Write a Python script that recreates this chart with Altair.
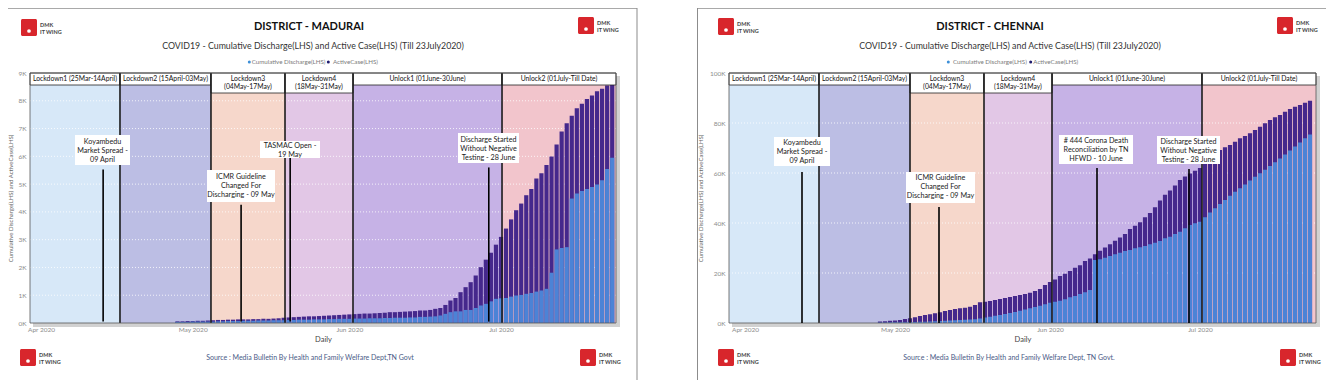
import altair as alt
import pandas as pd

FONT = "Lato"
FIRST_DAY = "2020-04-28"

# ---------------- series, thousands, daily from 28 Apr 2020 ----------------
madurai_total = [0.06, 0.06, 0.07,
    0.07, 0.08, 0.08, 0.09, 0.10, 0.11, 0.11, 0.12, 0.12, 0.13, 0.13, 0.13, 0.14, 0.14, 0.15, 0.15,
    0.16, 0.17, 0.19, 0.20, 0.21, 0.22, 0.23, 0.24, 0.24, 0.25, 0.26, 0.27, 0.28, 0.29, 0.30,
    0.31, 0.32, 0.33, 0.34, 0.34, 0.35,
    0.36, 0.37, 0.39, 0.39, 0.40, 0.41, 0.42, 0.43, 0.45, 0.45, 0.47, 0.51, 0.54, 0.65, 0.81, 0.90,
    1.11, 1.29, 1.47, 1.71, 2.01, 2.28, 2.53, 2.82,
    3.10, 3.40, 3.73, 4.06, 4.30, 4.60, 4.82, 5.20, 5.39, 5.69, 5.99, 6.43, 6.89, 7.19, 7.46, 7.73,
    7.89, 8.06, 8.19, 8.34, 8.43, 8.55, 8.64]
madurai_discharge = [0.04, 0.04, 0.04,
    0.05, 0.05, 0.05, 0.05, 0.05, 0.06, 0.06, 0.07, 0.07, 0.07, 0.08, 0.08, 0.08, 0.09, 0.09, 0.09,
    0.10, 0.10, 0.10, 0.11, 0.11, 0.12, 0.12, 0.12, 0.13, 0.13, 0.13, 0.14, 0.14, 0.15, 0.15,
    0.15, 0.16, 0.16, 0.16, 0.17, 0.17,
    0.17, 0.18, 0.18, 0.19, 0.19, 0.19, 0.20, 0.20, 0.22, 0.22, 0.23, 0.24, 0.27, 0.33, 0.39, 0.42,
    0.42, 0.47, 0.47, 0.54, 0.63, 0.69, 0.78, 0.87,
    0.89, 0.90, 0.95, 0.99, 1.01, 1.05, 1.08, 1.13, 1.17, 1.23, 1.81, 2.65, 2.70, 2.73, 4.48, 4.66,
    4.75, 4.82, 4.90, 4.99, 5.14, 5.54, 5.95]

chennai_total = [0.6, 0.7, 0.9,
    1.0, 1.2,
    1.6, 1.9, 2.3, 2.8, 3.2, 3.5, 3.9, 4.3, 4.8, 5.2, 5.6, 5.9, 6.1, 6.5, 7.2,
    8.3, 8.5, 8.8, 9.2, 9.6, 10.0, 10.4, 10.8, 11.2, 11.6, 12.1, 12.8, 13.6, 15.2,
    16.4, 17.4, 18.8, 19.7, 20.8, 22.1, 23.1, 24.8, 25.8, 27.5, 28.9, 30.2, 31.5, 32.9, 34.2,
    35.6, 37.6, 38.9, 40.3, 42.3, 44.0, 46.3, 49.0, 51.3, 53.0, 55.0, 57.2, 58.6, 59.8, 60.9,
    62.0, 63.9, 65.9, 67.6, 69.2, 70.3, 71.2, 72.5, 73.9, 74.8, 75.9, 77.2, 78.5, 79.9, 81.2,
    82.3, 83.2, 84.5, 85.6, 86.5, 87.2, 88.1, 88.9]
chennai_discharge = [0.2, 0.2, 0.3,
    0.3, 0.3,
    0.3, 0.4, 0.4, 0.5, 0.5, 0.6, 0.7, 0.8, 0.9, 1.0, 1.1, 1.2, 1.3, 1.4, 1.5,
    1.8, 2.2, 2.5, 2.9, 3.2, 3.6, 4.0, 4.4, 4.9, 5.4, 5.9, 6.4, 6.9, 7.5,
    8.1, 8.5, 8.9, 9.5, 10.3, 10.8, 11.6, 12.3, 13.2, 25.2, 25.5, 26.1, 26.8, 27.5, 28.1,
    28.8, 29.2, 29.9, 30.3, 30.8, 31.5, 32.1, 32.8, 33.9, 34.5, 35.6, 36.5, 37.9, 39.2, 39.9,
    40.5, 42.3, 44.2, 45.9, 47.6, 49.2, 50.9, 52.5, 53.9, 55.4, 57.0, 58.5, 59.9, 61.3, 62.8,
    64.3, 65.8, 67.4, 69.0, 70.6, 72.2, 73.9, 75.4]

# ---------------- periods ----------------
period_labels = ["Lockdown1 (25Mar-14April)", "Lockdown2 (15April-03May)",
                 "Lockdown3\n(04May-17May)", "Lockdown4\n(18May-31May)",
                 "Unlock1 (01June-30June)", "Unlock2 (01July-Till Date)"]
period_two_lines = [False, False, True, True, False, False]
period_colors = ["#d7e8f8", "#bcbee4", "#f6d7cb", "#e2c7e6", "#c6b2e6", "#f2c5cc"]
madurai_bounds = ["2020-03-29T19:46", "2020-04-16T15:00", "2020-05-04T15:00", "2020-05-19T06:30",
                  "2020-06-01T17:20", "2020-07-01T04:50", "2020-07-23T18:00"]
chennai_bounds = ["2020-03-28T19:12", "2020-04-15T19:12", "2020-05-04T00:00", "2020-05-18T19:12",
                  "2020-06-01T09:36", "2020-07-01T09:36", "2020-07-24T04:48"]

# ---------------- events ----------------
madurai_events = ["Koyambedu\nMarket Spread -\n09 April",
                  "ICMR Guideline\nChanged For\nDischarging - 09 May",
                  "TASMAC Open -\n19 May",
                  "Discharge Started\nWithout Negative\nTesting - 28 June"]
madurai_event_dates = ["2020-04-13T07:00", "2020-05-10T14:00", "2020-05-20T07:00", "2020-06-28T14:00"]
madurai_event_tops = [5.53, 4.26, 5.96, 5.60]
chennai_events = ["Koyambedu\nMarket Spread -\n09 April",
                  "ICMR Guideline\nChanged For\nDischarging - 09 May",
                  "# 444 Corona Death\nReconciliation by TN\nHFWD - 10 June",
                  "Discharge Started\nWithout Negative\nTesting - 28 June"]
chennai_event_dates = ["2020-04-12T09:36", "2020-05-09T19:12", "2020-06-10T09:36", "2020-06-28T19:12"]
chennai_event_tops = [60.4, 46.4, 62.0, 61.6]

month_ticks = ["2020-04-01", "2020-05-01", "2020-06-01", "2020-07-01"]

# ---------------- layout (pixels, chart coords) ----------------
W, H = 1318, 372
TOP, BOTTOM = 65, 315
madurai_box = [(67, 122, 127, 157, 94.5, 143), (199, 267, 162, 194, 233, 178),
               (252, 312, 133, 150, 282, 142), (450, 511, 125, 155, 480.5, 141)]
chennai_box = [(766, 822, 129, 158, 794, 143.5), (898, 967, 164, 195, 932.5, 179),
               (1051, 1125, 127, 156, 1088, 142), (1149, 1212, 128, 156, 1180.5, 142.5)]
EV_LINE = 9

DARK = "#45288c"
BLUE = "#4c83d6"
ONE = alt.Data(values=[{"k": 0}])


def dt(s):
    t = pd.Timestamp(s)
    return alt.DateTime(year=t.year, month=t.month, date=t.day, hours=t.hour, minutes=t.minute)


def rect_px(x0, x1, y0, y1, **kw):
    return alt.Chart(ONE).mark_rect(**kw).encode(
        x=alt.value(x0), x2=alt.value(x1), y=alt.value(y0), y2=alt.value(y1))


def text_px(s, x, y, **kw):
    kw.setdefault("font", FONT)
    return alt.Chart(ONE).mark_text(text=s, lineBreak="\n", **kw).encode(
        x=alt.value(x), y=alt.value(y))


def panel(total, discharge, bounds, xr, ymax, ystep, ev_labels, ev_dates, ev_tops, boxes, title_x):
    xs = alt.Scale(domain=[dt(bounds[0]), dt(bounds[-1])], range=list(xr), nice=False)
    ys = alt.Scale(domain=[0, ymax], range=[BOTTOM, TOP], nice=False)
    xaxis = alt.Axis(orient="bottom", offset=-(H - BOTTOM), values=[dt(m) for m in month_ticks],
                     format="%b %Y", labelFont=FONT, labelFontSize=6.5, labelColor="#8c8c8c",
                     ticks=False, domain=False, grid=False, labelPadding=3,
                     title="Daily", titleFont=FONT, titleFontSize=7.5, titleFontWeight="normal",
                     titleColor="#444", titlePadding=3)
    yaxis = alt.Axis(orient="left", offset=-xr[0], values=list(range(0, ymax + 1, ystep)),
                     labelExpr="datum.value + 'K'", labelFont=FONT, labelFontSize=6.5,
                     labelColor="#8c8c8c", ticks=False, domain=False, grid=False, labelPadding=4,
                     title="Cumulative Discharge(LHS) and ActiveCase(LHS)", titleFont=FONT,
                     titleFontSize=6, titleFontWeight="normal", titleColor="#666", titleX=title_x)

    dates = pd.date_range(FIRST_DAY, periods=len(total), freq="D")
    bars = pd.DataFrame({"start": dates - pd.Timedelta(hours=10),
                         "end": dates + pd.Timedelta(hours=10),
                         "total": total, "discharge": discharge})
    per = pd.DataFrame({"start": pd.to_datetime(bounds[:-1]), "end": pd.to_datetime(bounds[1:]),
                        "label": period_labels, "two": period_two_lines, "color": period_colors})
    per["mid"] = per["start"] + (per["end"] - per["start"]) / 2
    inner = pd.DataFrame({"b": pd.to_datetime(bounds[1:-1])})
    ev = pd.DataFrame({"d": pd.to_datetime(ev_dates), "top": ev_tops})
    grid = pd.DataFrame({"v": list(range(0, ymax + 1, ystep))[1:]})

    X = lambda f: alt.X(f, scale=xs, axis=xaxis)
    Y = lambda f: alt.Y(f, scale=ys, axis=yaxis)

    x0, x1 = xr
    layers = [rect_px(x0 + 3, x1 + 4, TOP + 3, BOTTOM + 4, color="#000", opacity=0.18)]
    for two, top in ((False, 77), (True, 85)):
        sub = alt.Chart(per).transform_filter(
            "datum.two" if two else "!datum.two").mark_rect().encode(
            x=X("start:T"), x2="end:T", y=alt.value(top), y2=alt.value(BOTTOM),
            color=alt.Color("color:N", scale=None))
        layers.append(sub)
    layers.append(alt.Chart(grid).mark_rule(color="#ffffff", strokeDash=[1, 2], opacity=0.8,
                                            strokeWidth=1).encode(
        y=Y("v:Q"), x=alt.value(x0), x2=alt.value(x1)))
    layers.append(alt.Chart(bars).mark_rect(color=DARK).encode(
        x=X("start:T"), x2="end:T", y=Y("total:Q"), y2=alt.datum(0)))
    layers.append(alt.Chart(bars).mark_rect(color=BLUE).encode(
        x=X("start:T"), x2="end:T", y=Y("discharge:Q"), y2=alt.datum(0)))
    for two, top, ty in ((False, 77, 71), (True, 85, 71)):
        flt = "datum.two" if two else "!datum.two"
        layers.append(alt.Chart(per).transform_filter(flt).mark_rect(
            fill="#ffffff", stroke="#222", strokeWidth=0.8).encode(
            x=X("start:T"), x2="end:T", y=alt.value(TOP), y2=alt.value(top)))
        layers.append(alt.Chart(per).transform_filter(flt).mark_text(
            font=FONT, fontSize=6.8, color="#111", lineBreak="\n", lineHeight=8,
            baseline="middle").encode(
            x=X("mid:T"), y=alt.value(ty), text="label:N"))
    layers.append(alt.Chart(inner).mark_rule(color="#1c1c1c", strokeWidth=1.6).encode(
        x=X("b:T"), y=alt.value(TOP), y2=alt.value(BOTTOM)))
    layers.append(rect_px(x0, x1, TOP, BOTTOM, fillOpacity=0, stroke="#555", strokeWidth=0.8))
    layers.append(alt.Chart(ev).mark_rule(color="#000", strokeWidth=1.6).encode(
        x=X("d:T"), y=Y("top:Q"), y2=alt.datum(0.05)))
    for lab, (bx0, bx1, by0, by1, cx, cy) in zip(ev_labels, boxes):
        n = lab.count("\n") + 1
        layers.append(rect_px(bx0, bx1, by0, by1, color="#ffffff"))
        layers.append(text_px(lab, cx, cy - (n - 1) * EV_LINE / 2, fontSize=7.2, lineHeight=EV_LINE,
                              color="#222", baseline="middle", align="center"))
    return alt.layer(*layers)


def logo(x, y):
    return [rect_px(x, x + 16, y, y + 17, color="#d8262c", cornerRadius=1.5),
            alt.Chart(ONE).mark_point(filled=True, color="#ffffff", size=14, opacity=1).encode(
                x=alt.value(x + 8), y=alt.value(y + 12)),
            text_px("DMK", x + 19, y + 6, fontSize=5.5, fontWeight="bold", color="#444", align="left"),
            text_px("IT WING", x + 19, y + 13, fontSize=5.5, fontWeight="bold", color="#444", align="left")]


decor = []
# slide borders
decor += [rect_px(0, 629, 0, 0.8, color="#8c8c8c"), rect_px(628.5, 629.5, 0, H, color="#8c8c8c"),
          rect_px(689, W, 0, 0.8, color="#8c8c8c"), rect_px(689, 690, 0, H, color="#8c8c8c")]
for lx, ly in ((13, 11), (570, 9), (12, 341), (572, 341), (710, 10), (1269, 9), (710, 341), (1272, 341)):
    decor += logo(lx, ly)
for cx, name in ((301, "DISTRICT - MADURAI"), (982, "DISTRICT - CHENNAI")):
    decor.append(text_px(name, cx, 19, fontSize=11, fontWeight="bold", color="#111", baseline="middle"))
for cx in (305, 1002):
    decor.append(text_px("COVID19 - Cumulative Discharge(LHS) and Active Case(LHS) (Till 23July2020)",
                         cx, 38, fontSize=8.8, color="#333", baseline="middle"))
for bx, tx, dx, tx2 in ((241.3, 243.7, 320.3, 325), (940.3, 945, 1022.7, 1025.3)):
    decor.append(alt.Chart(ONE).mark_point(filled=True, size=9, color="#3c8fd8", opacity=1).encode(
        x=alt.value(bx), y=alt.value(54)))
    decor.append(alt.Chart(ONE).mark_point(filled=True, size=9, color="#1e1a6e", opacity=1).encode(
        x=alt.value(dx), y=alt.value(54)))
    decor.append(text_px("Cumulative Discharge(LHS)", tx, 54, fontSize=6.2, color="#7a7a7a",
                         align="left", baseline="middle"))
    decor.append(text_px("ActiveCase(LHS)", tx2, 54, fontSize=6.2, color="#7a7a7a",
                         align="left", baseline="middle"))
decor.append(text_px("Source : Media Bulletin By Health and Family Welfare Dept,TN Govt", 302, 350,
                     fontSize=7, color="#4a5a86", baseline="middle"))
decor.append(text_px("Source : Media Bulletin By Health and Family Welfare Dept, TN Govt.", 1001, 350,
                     fontSize=7, color="#4a5a86", baseline="middle"))

madurai = panel(madurai_total, madurai_discharge, madurai_bounds, (22, 608), 9, 1,
                madurai_events, madurai_event_dates, madurai_event_tops, madurai_box, -17)
chennai = panel(chennai_total, chennai_discharge, chennai_bounds, (721, 1308), 100, 20,
                chennai_events, chennai_event_dates, chennai_event_tops, chennai_box, -26)

chart = alt.layer(madurai, chennai, *decor).resolve_scale(
    x="independent", y="independent").properties(
    width=W, height=H, autosize=alt.AutoSizeParams(type="none"), padding=0
).configure_view(stroke=None)

chart.save("out.html", embed_options={"renderer": "svg", "actions": False})
